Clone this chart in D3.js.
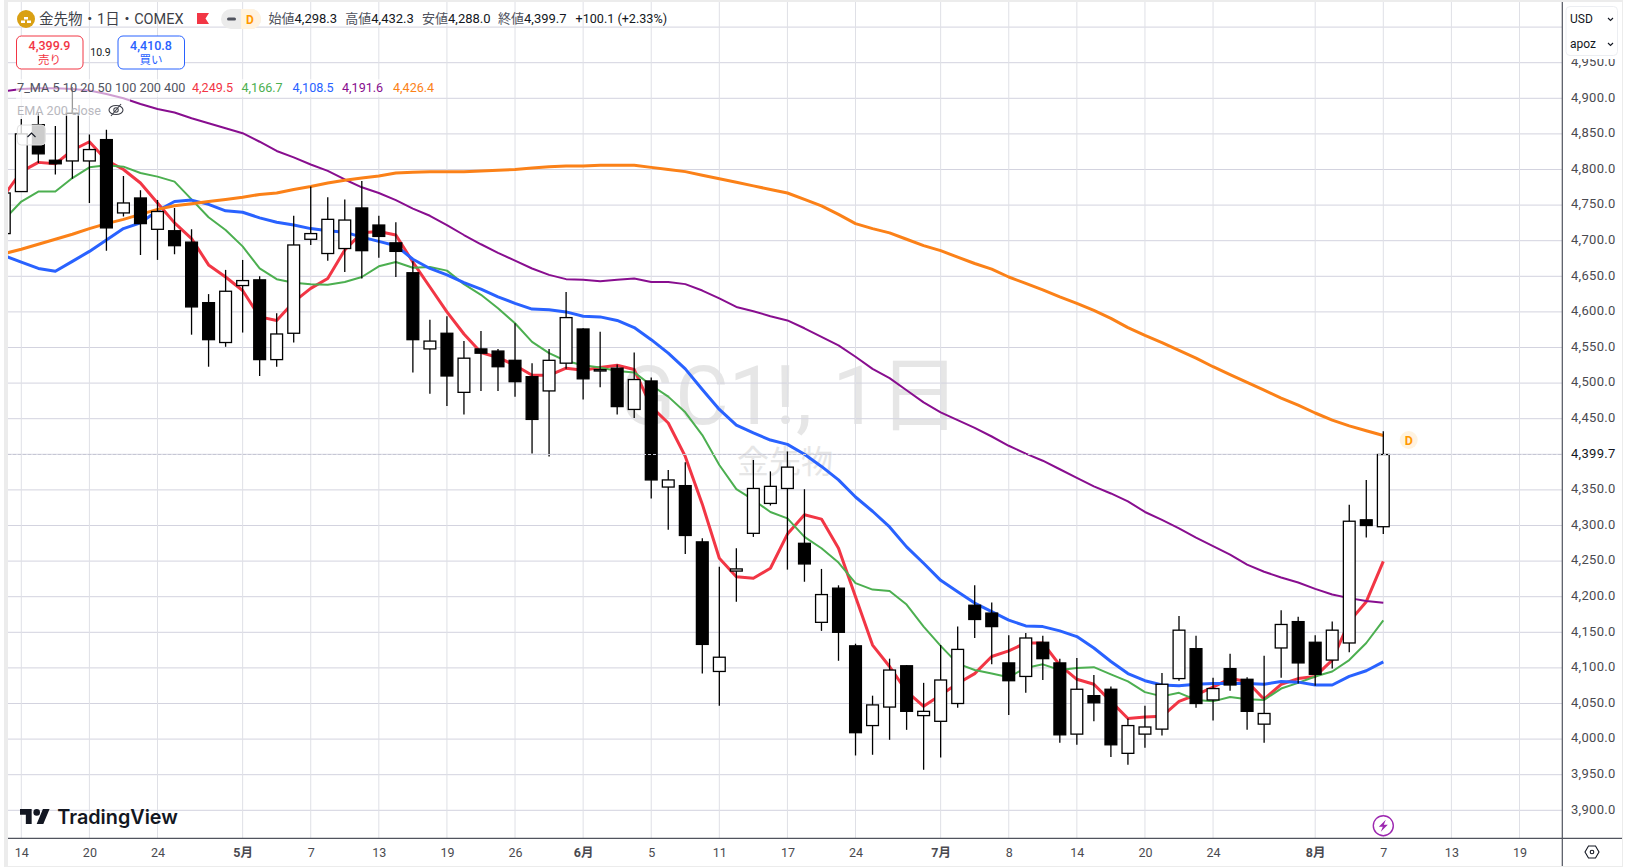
<!DOCTYPE html>
<html>
<head>
<meta charset="utf-8">
<title>GC1! 1D</title>
<script src="https://cdn.jsdelivr.net/npm/d3@7"></script>
<style>
  html, body { margin: 0; padding: 0; background: #fff; overflow: hidden; }
  svg { display: block; font-family: Roboto, "Noto Sans CJK JP", sans-serif; }
  .tick text { font-family: Roboto, "Noto Sans CJK JP", sans-serif; }
</style>
</head>
<body>
<svg id="chart" width="1626" height="867"></svg>
<script>
// bar numbers: -1 is the half hidden candle at the left edge, 80 is the last one
const opens = [4710,4769,4863,4813,4812,4812,4842,4739,4760,4716,4714,4698,4613,4557,4637,4645,4533,4570,4702,4682,4689,4746,4722,4697,4655,4548,4570,4487,4548,4545,4532,4509,4489,4528,4576,4517,4521,4463,4503,4354,4356,4277,4095,4236,4289,4331,4352,4275,4164,4212,4131,4019,4045,4103,4033,4025,4050,4188,4177,4107,4088,4136,4107,4007,4061,4070,3980,4007,4014,4085,4127,4055,4099,4084,4021,4128,4165,4136,4111,4135,4308,4298.3];
const highs = [4790,4871,4879,4861,4916,4849,4856,4791,4771,4757,4746,4716,4625,4659,4673,4650,4598,4735,4776,4761,4758,4784,4735,4726,4671,4589,4594,4559,4573,4548,4584,4528,4548,4628,4577,4572,4526,4543,4508,4378,4389,4282,4242,4268,4392,4376,4404,4351,4239,4216,4134,4061,4113,4104,4079,4132,4158,4216,4192,4146,4149,4145,4113,4114,4090,4074,4029,4047,4093,4173,4145,4086,4120,4087,4117,4181,4172,4146,4165,4329,4364,4432.3];
const lows = [4690,4769,4809,4793,4787,4753,4686,4734,4680,4673,4681,4568,4523,4551,4571,4510,4523,4557,4694,4672,4656,4647,4676,4649,4515,4485,4468,4456,4489,4489,4481,4401,4397,4520,4477,4494,4456,4451,4338,4294,4260,4092,4047,4193,4284,4328,4238,4221,4152,4110,3977,3978,3999,4013,3957,3974,4044,4142,4105,4034,4065,4083,3995,3992,4025,3975,3964,3988,4005,4082,4044,4026,4068,4013,3995,4086,4078,4075,4099,4122,4283,4288];
const closes = [4767,4850,4822,4808,4879,4828,4718,4753,4724,4741,4693,4607,4561,4629,4644,4533,4569,4694,4710,4730,4729,4686,4706,4685,4561,4559,4510,4535,4542,4523,4502,4449,4532,4592,4506,4519,4467,4505,4364,4364,4286,4133,4115,4239,4352,4355,4382,4246,4203,4150,4009,4048,4097,4039,4039,4083,4126,4168,4158,4082,4142,4113,4006,4070,4051,3992,4019,4017,4077,4153,4050,4071,4076,4039,4036,4161,4107,4091,4153,4306,4300,4399.7];

const ma5 = [4764,4797,4810,4808,4827,4839,4813,4800,4781,4753,4725,4703,4666,4649,4630,4593,4588,4614,4633,4647,4687,4711,4713,4708,4670,4635,4600,4569,4543,4536,4525,4511,4511,4521,4518,4522,4525,4519,4467,4444,4397,4330,4254,4228,4226,4240,4288,4315,4309,4268,4200,4132,4102,4067,4046,4062,4078,4092,4116,4124,4135,4135,4104,4084,4077,4053,4029,4031,4032,4053,4062,4073,4085,4081,4056,4077,4085,4088,4111,4165,4193,4249.5];
const ma10 = [4730,4755,4769,4769,4788,4803,4806,4804,4795,4790,4783,4758,4733,4715,4692,4661,4646,4641,4639,4638,4642,4649,4664,4670,4662,4663,4658,4639,4624,4605,4584,4558,4542,4531,4525,4522,4517,4515,4497,4481,4459,4427,4385,4351,4336,4319,4310,4284,4268,4248,4219,4210,4208,4189,4158,4131,4106,4097,4092,4087,4100,4105,4097,4100,4101,4091,4081,4066,4060,4065,4055,4053,4059,4056,4055,4071,4079,4088,4095,4111,4135,4166.7];
const ma20 = [4679,4670,4661,4657,4671,4685,4701,4717,4725,4742,4755,4757,4751,4742,4740,4732,4726,4722,4717,4714,4712,4705,4699,4693,4674,4661,4652,4641,4632,4621,4612,4604,4603,4600,4594,4593,4588,4578,4561,4542,4520,4491,4463,4441,4430,4420,4414,4400,4383,4364,4340,4320,4298,4270,4247,4223,4207,4191,4179,4167,4159,4158,4152,4144,4128,4109,4092,4082,4076,4075,4077,4078,4078,4078,4077,4081,4080,4076,4076,4088,4096,4108.5];
const ma50 = [4910,4913,4914,4914,4913,4911,4906,4900,4892,4885,4880,4872,4865,4858,4851,4839,4826,4817,4807,4798,4786,4775,4767,4757,4745,4735,4722,4708,4695,4683,4672,4661,4652,4646,4645,4643,4645,4647,4642,4642,4639,4630,4619,4607,4601,4594,4588,4577,4565,4553,4537,4520,4507,4490,4473,4459,4448,4437,4425,4412,4401,4391,4379,4367,4355,4345,4334,4319,4308,4296,4283,4271,4259,4245,4235,4227,4220,4211,4203,4198,4194,4191.6];
const ma100 = [4682,4688,4695,4702,4709,4717,4724,4730,4737,4744,4749,4752,4755,4758,4761,4765,4767,4772,4776,4781,4785,4788,4791,4795,4796,4797,4797,4797,4798,4799,4800,4802,4804,4805,4805,4806,4806,4806,4803,4800,4797,4792,4787,4782,4777,4772,4767,4758,4749,4737,4724,4717,4711,4702,4693,4686,4677,4668,4660,4649,4640,4631,4621,4612,4602,4591,4578,4567,4557,4546,4535,4523,4512,4501,4490,4479,4469,4458,4448,4440,4433,4426.4];

const dateBars = [0,4,8,13,17,21,25,29,33,37,41,45,49,54,58,62,66,70,76,80,84,88];
const dateLabels = ["14","20","24","5月","7","13","19","26","6月","5","11","17","24","7月","8","14","20","24","8月","7","13","19"];
const priceTicks = d3.range(3900, 4951, 50);
const gridPrices = d3.range(3900, 5001, 50);
const lastPrice = 4399.7;

const maNames = ["5","10","20","50","100","200","400"];
const maLast = ["4,249.5","4,166.7","4,108.5","4,191.6","4,426.4"];
const maColors = ["#f23645","#4caf50","#2962ff","#880e8f","#fb8118"];

const paneLeft = 8, paneRight = 1562.3, paneTop = 2, paneBottom = 838.3;
const fmt = d3.format(",.1f");
const bars = d3.range(-1, 81);
const candles = bars.map((k, i) => ({ k, o: opens[i], h: highs[i], l: lows[i], c: closes[i] }));

const x = d3.scaleLinear().domain([0, 80]).range([21.3, 1383.3]);
const y = d3.scaleLinear().domain([3900, 4900]).range([810.3, 98.3]);

const svg = d3.select("#chart");

// frame of the widget
svg.append("rect").attr("x", 4).attr("y", 0).attr("width", 1619).attr("height", 867).attr("fill", "#ececec");
svg.append("rect").attr("x", 8).attr("y", 2).attr("width", 1614).attr("height", 864).attr("fill", "#fff");

svg.append("defs").append("clipPath").attr("id", "pane")
  .append("rect").attr("x", paneLeft).attr("y", paneTop).attr("width", paneRight - paneLeft).attr("height", paneBottom - paneTop);
const pane = svg.append("g").attr("clip-path", "url(#pane)");

// watermark
pane.append("text").attr("x", 790).attr("y", 424).attr("text-anchor", "middle")
  .attr("font-size", 82).attr("fill", "#e6e6e6").text("GC1!, 1日");
pane.append("text").attr("x", 785).attr("y", 473).attr("text-anchor", "middle")
  .attr("font-size", 32).attr("fill", "#e6e6e6").text("金先物");

// grid
pane.selectAll("line.hgrid").data(gridPrices).enter().append("line")
  .attr("x1", paneLeft).attr("x2", paneRight)
  .attr("y1", d => y(d)).attr("y2", d => y(d))
  .attr("stroke", "#d3d3df").attr("stroke-width", 1);
pane.selectAll("line.vgrid").data(dateBars).enter().append("line")
  .attr("x1", d => x(d)).attr("x2", d => x(d))
  .attr("y1", paneTop).attr("y2", paneBottom)
  .attr("stroke", "#dfe0e6").attr("stroke-width", 1);

// moving averages
const maLine = d3.line().x((d, i) => x(bars[i])).y(d => y(d));
const maSeries = [
  { values: ma5, color: maColors[0], w: 3 },
  { values: ma10, color: maColors[1], w: 2 },
  { values: ma20, color: maColors[2], w: 3 },
  { values: ma50, color: maColors[3], w: 2 },
  { values: ma100, color: maColors[4], w: 3 }
];
pane.selectAll("path.ma").data(maSeries).enter().append("path")
  .attr("class", "ma").attr("fill", "none")
  .attr("stroke", d => d.color).attr("stroke-width", d => d.w)
  .attr("stroke-linejoin", "round")
  .attr("d", d => maLine(d.values));

// candles
pane.selectAll("line.wick").data(candles).enter().append("line")
  .attr("x1", d => x(d.k)).attr("x2", d => x(d.k))
  .attr("y1", d => y(d.h)).attr("y2", d => y(d.l))
  .attr("stroke", "#000").attr("stroke-width", 1.3);
pane.selectAll("rect.body").data(candles).enter().append("rect")
  .attr("x", d => x(d.k) - 5.9)
  .attr("width", 11.8)
  .attr("y", d => y(Math.max(d.o, d.c)))
  .attr("height", d => Math.abs(y(d.o) - y(d.c)))
  .attr("fill", d => d.c >= d.o ? "#fff" : "#000")
  .attr("stroke", "#000").attr("stroke-width", 1.3);

// last price line
pane.append("line").attr("x1", paneLeft).attr("x2", paneRight)
  .attr("y1", y(lastPrice)).attr("y2", y(lastPrice))
  .attr("stroke", "#c6c7d4").attr("stroke-width", 1).attr("stroke-dasharray", "3 2");

// legend shade that sits over the chart
svg.append("rect").attr("x", 16).attr("y", 79).attr("width", 420).attr("height", 18).attr("fill", "#fff").attr("opacity", 0.6);
svg.append("rect").attr("x", 16).attr("y", 97).attr("width", 114).attr("height", 19).attr("fill", "#fff").attr("opacity", 0.6);

// axes
const yAxis = d3.axisRight(y).tickValues(priceTicks.filter(d => d !== 4400)).tickSize(0).tickFormat(fmt);
svg.append("g").attr("class", "y-axis").attr("transform", `translate(1571,0)`).call(yAxis)
  .call(g => g.select(".domain").remove())
  .selectAll("text").attr("x", 0).attr("dy", "0.22em").attr("font-size", 13).attr("letter-spacing", 0.3).attr("fill", "#4a4a50");
svg.append("text").attr("x", 1571).attr("y", y(lastPrice) + 3.3).attr("font-size", 13).attr("letter-spacing", 0.3)
  .attr("fill", "#131722").text(fmt(lastPrice));

const xAxis = d3.axisBottom(x).tickValues(dateBars).tickSize(0)
  .tickFormat((d, i) => dateLabels[i]);
svg.append("g").attr("class", "x-axis").attr("transform", `translate(0,${paneBottom})`).call(xAxis)
  .call(g => g.select(".domain").remove())
  .selectAll("text").attr("y", 9.5).attr("font-size", 12.5)
  .attr("font-weight", (d, i) => dateLabels[i].includes("月") ? 700 : 400)
  .attr("fill", "#4a4a50");

svg.append("line").attr("x1", paneLeft).attr("x2", 1622).attr("y1", paneBottom).attr("y2", paneBottom).attr("stroke", "#50535e").attr("stroke-width", 1.2);
svg.append("line").attr("x1", paneRight).attr("x2", paneRight).attr("y1", paneTop).attr("y2", 866).attr("stroke", "#50535e").attr("stroke-width", 1.2);

// settings hexagon in the corner
const gear = svg.append("g").attr("transform", "translate(1592,852)").attr("fill", "none").attr("stroke", "#131722").attr("stroke-width", 1.1);
gear.append("path").attr("d", "M-7 0L-3.5-6H3.5L7 0L3.5 6H-3.5Z");
gear.append("circle").attr("r", 1.8);

// currency / unit box, it cuts off the top of the 4,950.0 label
svg.append("rect").attr("x", 1564).attr("y", 4).attr("width", 57).attr("height", 55).attr("fill", "#fff");
svg.append("rect").attr("x", 1566).attr("y", 6.5).attr("width", 51.5).attr("height", 49).attr("rx", 4)
  .attr("fill", "#fff").attr("stroke", "#eceef2");
[["USD", 23], ["apoz", 48]].forEach(r => {
  svg.append("text").attr("x", 1570).attr("y", r[1]).attr("font-size", 12).attr("fill", "#131722").text(r[0]);
  svg.append("path").attr("d", `M1608 ${r[1] - 5}l2.5 2.5l2.5 -2.5`).attr("fill", "none").attr("stroke", "#131722").attr("stroke-width", 1.1);
});

// header line
svg.append("circle").attr("cx", 26).attr("cy", 19).attr("r", 9).attr("fill", "#d9a013");
svg.append("path").attr("d", "M21 23h4v-2.5h-4zM27 23h4v-2.5h-4zM24 19.5h4v-2.5h-4z").attr("fill", "#fff");
svg.append("text").attr("x", 39).attr("y", 24).attr("font-size", 14.5).attr("fill", "#3d3f48").text("金先物・1日・COMEX");
svg.append("path").attr("d", "M197 13h12l-3.5 5.5l3.5 5.5h-12z").attr("fill", "#f23645");
svg.append("rect").attr("x", 221).attr("y", 9).attr("width", 40).attr("height", 20).attr("rx", 10).attr("fill", "#ebebeb");
svg.append("path").attr("d", "M241 9h10a10 10 0 0 1 0 20h-10z").attr("fill", "#fff3e0");
svg.append("rect").attr("x", 227).attr("y", 17.5).attr("width", 9).attr("height", 3).attr("rx", 1.5).attr("fill", "#50535e");
svg.append("text").attr("x", 250).attr("y", 23.5).attr("text-anchor", "middle").attr("font-size", 12).attr("font-weight", 700).attr("fill", "#ff9800").text("D");

const ohlc = [["始値","4,298.3",268.5],["高値","4,432.3",345.3],["安値","4,288.0",422],["終値","4,399.7",498]];
ohlc.forEach(r => {
  const t = svg.append("text").attr("x", r[2]).attr("y", 23).attr("font-size", 13);
  t.append("tspan").attr("fill", "#50535e").text(r[0]);
  t.append("tspan").attr("fill", "#131722").text(r[1]);
});
svg.append("text").attr("x", 575.5).attr("y", 23).attr("font-size", 12.6).attr("fill", "#131722").text("+100.1 (+2.33%)");

// sell and buy boxes
[[16.5, "#f23645", "4,399.9", "売り"], [118, "#2962ff", "4,410.8", "買い"]].forEach(b => {
  svg.append("rect").attr("x", b[0]).attr("y", 36).attr("width", 66.5).attr("height", 33).attr("rx", 5)
    .attr("fill", "#fff").attr("stroke", b[1]);
  svg.append("text").attr("x", b[0] + 33).attr("y", 50).attr("text-anchor", "middle").attr("font-size", 12.5).attr("font-weight", 500).attr("fill", b[1]).text(b[2]);
  svg.append("text").attr("x", b[0] + 33).attr("y", 64).attr("text-anchor", "middle").attr("font-size", 11.5).attr("fill", b[1]).text(b[3]);
});
svg.append("text").attr("x", 100.5).attr("y", 56).attr("text-anchor", "middle").attr("font-size", 10.5).attr("fill", "#131722").text("10.9");

// indicator legend
svg.append("text").attr("x", 17).attr("y", 92).attr("font-size", 12.7).attr("fill", "#50535e").text("7_MA " + maNames.join(" "));
const maLabelX = [192, 241.5, 292.5, 342, 393];
maLast.forEach((s, i) => {
  svg.append("text").attr("x", maLabelX[i]).attr("y", 92).attr("font-size", 12.6).attr("fill", maColors[i]).text(s);
});
svg.append("text").attr("x", 17).attr("y", 115).attr("font-size", 12.6).attr("fill", "#b8b8be").text("EMA 200 close");
const eye = svg.append("g").attr("transform", "translate(116,110)").attr("fill", "none").attr("stroke", "#3d3f48").attr("stroke-width", 1.1);
eye.append("ellipse").attr("rx", 7).attr("ry", 4.5);
eye.append("circle").attr("r", 2.2);
eye.append("line").attr("x1", -5).attr("y1", 6).attr("x2", 5).attr("y2", -6);

// collapse button over the first candles
svg.append("rect").attr("x", 17.3).attr("y", 125).attr("width", 28).attr("height", 20).attr("rx", 4)
  .attr("fill", "#fff").attr("fill-opacity", 0.8).attr("stroke", "#e0e0e0");
svg.append("path").attr("d", "M27.5 137l4 -4l4 4").attr("fill", "none").attr("stroke", "#131722").attr("stroke-width", 1.1);

// D marker next to the last bar
svg.append("circle").attr("cx", 1408.7).attr("cy", 440).attr("r", 9).attr("fill", "#fff3e0");
svg.append("text").attr("x", 1408.7).attr("y", 444.5).attr("text-anchor", "middle").attr("font-size", 12.5).attr("font-weight", 700).attr("fill", "#ff9800").text("D");

// lightning marker
svg.append("circle").attr("cx", x(80)).attr("cy", 825.7).attr("r", 10).attr("fill", "#fff").attr("stroke", "#9c27b0").attr("stroke-width", 1.4);
svg.append("path").attr("transform", `translate(${x(80)},825.7)`)
  .attr("d", "M2.5 -6L-4.5 1H-0.5L-2.5 6L4.5 -1H0.5Z").attr("fill", "#9c27b0");

// TradingView logo
svg.append("path").attr("transform", "translate(20,805.7) scale(0.833)")
  .attr("d", "M14 22H7V11H0V4h14v18zM28 22h-8l7.5-18h8L28 22z").attr("fill", "#131722");
svg.append("circle").attr("cx", 36.7).attr("cy", 812.4).attr("r", 3.3).attr("fill", "#131722");
svg.append("text").attr("x", 57.3).attr("y", 824).attr("font-family", "Inter, Roboto, sans-serif")
  .attr("font-size", 19.8).attr("font-weight", 600).attr("fill", "#131722").text("TradingView");
</script>
</body>
</html>
